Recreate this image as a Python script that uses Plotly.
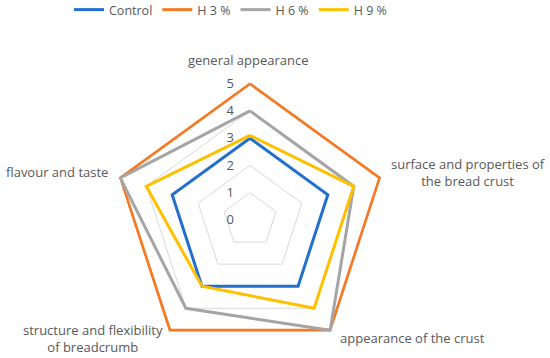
import plotly.graph_objects as go

categories = [
    "general appearance",
    "surface and properties of the bread crust",
    "appearance of the crust",
    "structure and flexibility of breadcrumb",
    "flavour and taste",
]
label_text = [
    "general appearance",
    "surface and properties of<br>the bread crust",
    "appearance of the crust",
    "structure and flexibility<br>of breadcrumb",
    "flavour and taste",
]
control = [3, 3, 3, 3, 3]
h3 = [5, 5, 5, 5, 5]
h6 = [4, 4, 5, 4, 5]
h9 = [3.1, 4, 4, 3, 4]
radial_ticks = [0, 1, 2, 3, 4, 5]

series = [
    ("Control", control, "#2270CC"),
    ("H 3 %", h3, "#F47A25"),
    ("H 6 %", h6, "#A5A5A5"),
    ("H 9 %", h9, "#FFC000"),
]

W, H = 550, 358
FONT = "Open Sans"
TXT = "#595959"

fig = go.Figure()
for name, vals, color in series:
    fig.add_trace(go.Scatterpolar(
        r=vals + [vals[0]],
        theta=categories + [categories[0]],
        mode="lines",
        name=name,
        line=dict(color=color, width=3),
    ))

# category labels placed around the radar (pixel anchors in figure space)
label_pos = [
    (249, 60, "center", "middle"),
    (468, 172, "center", "middle"),
    (338, 338, "left", "middle"),
    (93, 338, "center", "middle"),
    (110, 172, "right", "middle"),
]
for txt, (px, py, xa, ya) in zip(label_text, label_pos):
    fig.add_annotation(
        text=txt, xref="paper", yref="paper",
        x=px / W, y=1 - py / H, xanchor=xa, yanchor=ya,
        showarrow=False, align="center",
        font=dict(family=FONT, size=13, color=TXT),
    )

fig.update_layout(
    width=W, height=H,
    margin=dict(l=0, r=0, t=0, b=0, autoexpand=False),
    paper_bgcolor="white",
    font=dict(family=FONT, size=12, color=TXT),
    legend=dict(orientation="h", x=69 / W, xanchor="left",
                y=1 + 5 / H, yanchor="top",
                font=dict(family=FONT, size=12.5, color=TXT),
                tracegroupgap=0),
    polar=dict(
        domain=dict(x=[112 / W, 388 / W], y=[0, 276 / H]),
        bgcolor="white",
        gridshape="linear",
        radialaxis=dict(range=[0, 5.06], tickvals=radial_ticks,
                        angle=90, tickangle=90, showline=False,
                        gridcolor="#D9D9D9", gridwidth=1,
                        ticks="outside", ticklen=11, tickcolor="rgba(0,0,0,0)",
                        side="counterclockwise", layer="below traces",
                        tickfont=dict(family=FONT, size=13, color=TXT)),
        angularaxis=dict(direction="clockwise", rotation=90,
                         showgrid=False, showline=False,
                         showticklabels=False, layer="below traces",
                         ticks=""),
    ),
)

fig.write_html("out.html", config={"displayModeBar": False},
               post_script="document.body.style.margin='0';")
